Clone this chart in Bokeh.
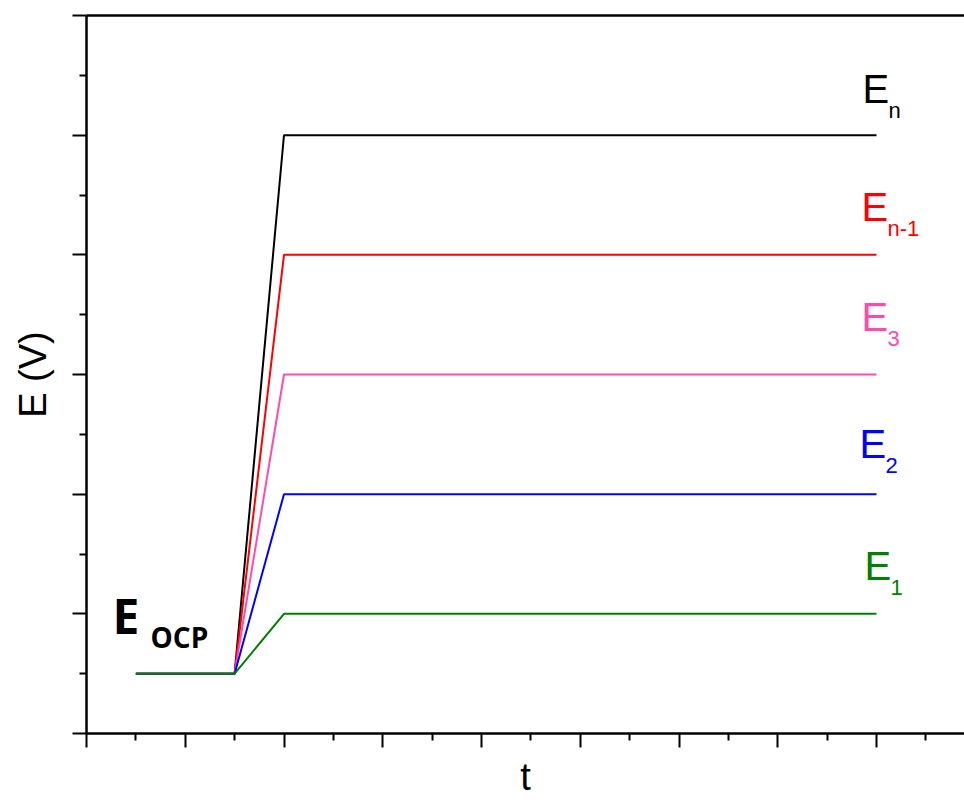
from bokeh.plotting import figure
from bokeh.models import FixedTicker, LinearAxis, Range1d
from bokeh.core.properties import value
from bokeh.embed import file_html
from bokeh.resources import INLINE

# ---- data ----
t_points = [0.5, 1.5, 2.0, 8.0]
e_ocp = 0.5
levels = [5.0, 4.0, 3.0, 2.0, 1.0]          # En, En-1, E3, E2, E1
names_main = ["E", "E", "E", "E", "E"]
names_sub = ["n", "n-1", "3", "2", "1"]
colors = ["#000000", "#FF0000", "#FF4AAE", "#0000FF", "#008000"]
x_major = [0, 1, 2, 3, 4, 5, 6, 7, 8]
x_minor = [0.5, 1.5, 2.5, 3.5, 4.5, 5.5, 6.5, 7.5, 8.5]
y_major = [0, 1, 2, 3, 4, 5, 6]
y_minor = [0.5, 1.5, 2.5, 3.5, 4.5, 5.5]

W, H = 964, 801
L, T, B = 86, 15, 68
xmax = (W - L) / 98.75
p = figure(width=W, height=H, output_backend="svg", toolbar_location=None,
           x_range=Range1d(0, xmax), y_range=Range1d(0, 6),
           min_border_left=L, min_border_right=0, min_border_top=T,
           min_border_bottom=B, x_axis_location="below", y_axis_location="left")
p.grid.visible = False
p.outline_line_color = None
p.background_fill_color = "white"
p.border_fill_color = "white"

for ax, major, minor in ((p.xaxis[0], x_major, x_minor), (p.yaxis[0], y_major, y_minor)):
    ax.ticker = FixedTicker(ticks=major, minor_ticks=minor)
    ax.axis_line_width = 2.5
    ax.axis_line_color = "black"
    ax.major_tick_line_width = 2
    ax.minor_tick_line_width = 2
    ax.major_tick_out = 14
    ax.major_tick_in = 0
    ax.minor_tick_out = 7
    ax.minor_tick_in = 0
    ax.major_label_overrides = {k: "" for k in major}
    ax.major_label_text_font_size = "1px"
    ax.major_label_standoff = 0
    ax.axis_label_text_font = "Liberation Sans"
    ax.axis_label_text_font_size = "38px"
    ax.axis_label_text_font_style = "normal"
    ax.axis_label_text_color = "black"

p.yaxis[0].axis_label = "E (V)"
p.yaxis[0].axis_label_standoff = 19
p.xaxis[0].axis_label = "t"
p.xaxis[0].axis_label_standoff = 8

top = LinearAxis(ticker=FixedTicker(ticks=[]), axis_line_width=2.5,
                 major_tick_line_color=None, minor_tick_line_color=None,
                 major_label_text_font_size="1px")
p.add_layout(top, "above")

# draw lines (black first, green last)
for lev, col in zip(levels, colors):
    p.line(t_points, [e_ocp, e_ocp, lev, lev], line_color=col, line_width=2)

def dx(px):
    return (px - L) / 98.75

def dy(py):
    return (733 - py) / 119.67

SHIFT = 0.42  # empirical baseline correction, in em

# level labels: (E left px, E baseline px, sub left px)
label_pos = [(862, 105, 888), (861, 223, 887), (861, 333, 887),
             (859, 460, 885), (864, 582, 890)]
ex = [dx(a) for a, _, _ in label_pos]
ey = [dy(b - SHIFT * 40) for _, b, _ in label_pos]
sx = [dx(c) for _, _, c in label_pos]
sy = [dy(b + 14 - SHIFT * 22) for _, b, _ in label_pos]
p.text(x=ex, y=ey, text=names_main, text_color=colors,
       text_font=value("Liberation Sans"), text_font_size=value("40px"),
       text_align="left", text_baseline="alphabetic")
p.text(x=sx, y=sy, text=names_sub, text_color=colors,
       text_font=value("Liberation Sans"), text_font_size=value("22px"),
       text_align="left", text_baseline="alphabetic")

# E OCP
p.text(x=[dx(112)], y=[dy(635 - SHIFT * 48)], text=["E"], text_color="black",
       text_font=value("Open Sans"), text_font_style="bold", text_font_size=value("48px"),
       text_align="left", text_baseline="alphabetic")
p.text(x=[dx(150)], y=[dy(648 - SHIFT * 28)], text=["OCP"], text_color="black",
       text_font=value("Open Sans"), text_font_style="bold", text_font_size=value("28px"),
       text_align="left", text_baseline="alphabetic")

open("out.html", "w").write(file_html(p, INLINE))
